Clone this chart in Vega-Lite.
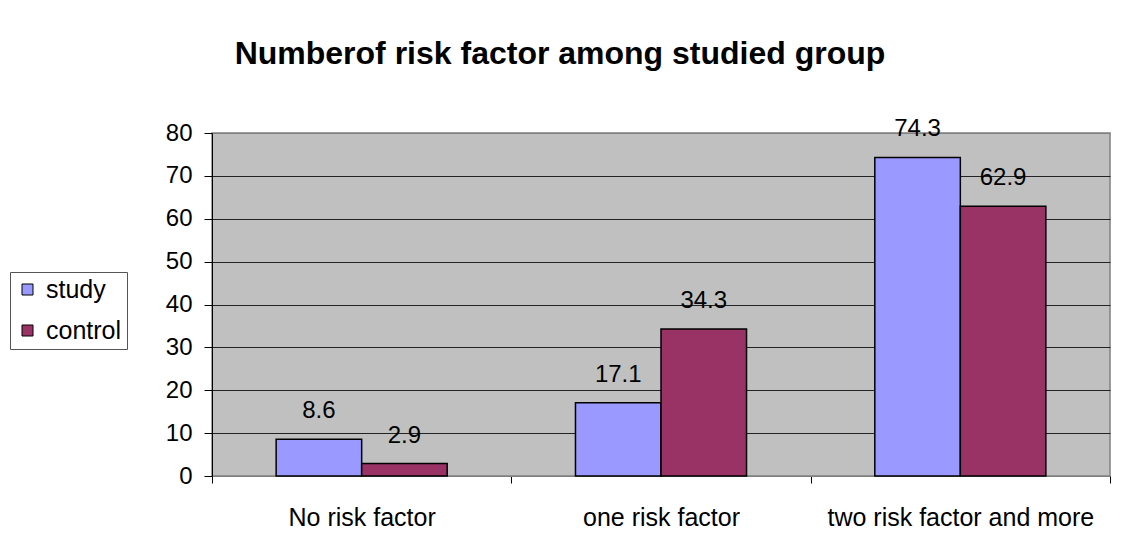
{
  "$schema": "https://vega.github.io/schema/vega-lite/v6.json",
  "width": 898,
  "height": 343,
  "autosize": {"type": "none"},
  "padding": {"left": 212, "top": 133, "right": 12, "bottom": 80},
  "background": "white",
  "title": {
    "text": "Numberof risk factor among studied group",
    "font": "Liberation Sans",
    "fontSize": 32,
    "fontWeight": "bold",
    "color": "black",
    "anchor": "middle",
    "dx": -101,
    "offset": 46
  },
  "data": {
    "values": [
      {"category": "No risk factor", "group": "study", "value": 8.6},
      {"category": "No risk factor", "group": "control", "value": 2.9},
      {"category": "one risk factor", "group": "study", "value": 17.1},
      {"category": "one risk factor", "group": "control", "value": 34.3},
      {"category": "two risk factor and more", "group": "study", "value": 74.3},
      {"category": "two risk factor and more", "group": "control", "value": 62.9}
    ]
  },
  "encoding": {
    "x": {
      "field": "category",
      "type": "nominal",
      "sort": ["No risk factor", "one risk factor", "two risk factor and more"],
      "scale": {"paddingInner": 0, "paddingOuter": 0},
      "axis": {
        "title": null,
        "labelAngle": 0,
        "labelFont": "Liberation Sans",
        "labelFontSize": 25,
        "labelColor": "black",
        "labelPadding": 22,
        "labelLimit": 0,
        "tickBand": "extent",
        "tickSize": 7,
        "tickColor": "black",
        "domainColor": "#808080",
        "grid": false
      }
    },
    "xOffset": {
      "field": "group",
      "sort": ["study", "control"],
      "scale": {"paddingOuter": 0.75, "paddingInner": 0}
    },
    "y": {
      "field": "value",
      "type": "quantitative",
      "scale": {"domain": [0, 80], "nice": false},
      "axis": {
        "title": null,
        "values": [0, 10, 20, 30, 40, 50, 60, 70, 80],
        "labelFont": "Liberation Sans",
        "labelFontSize": 24,
        "labelColor": "black",
        "labelPadding": 12,
        "tickSize": 8,
        "tickColor": "black",
        "domainColor": "black",
        "grid": true,
        "gridColor": {"condition": {"test": "datum.value === 80", "value": "#808080"}, "value": "#222222"},
        "gridWidth": 1
      }
    }
  },
  "layer": [
    {
      "mark": {"type": "bar", "stroke": "black", "strokeWidth": 1.5},
      "encoding": {
        "color": {
          "field": "group",
          "type": "nominal",
          "sort": ["study", "control"],
          "scale": {"domain": ["study", "control"], "range": ["#9999FF", "#993366"]},
          "legend": {
            "title": null,
            "orient": "none",
            "legendX": -202,
            "legendY": 139,
            "fillColor": "white",
            "strokeColor": "#555555",
            "padding": 5,
            "rowPadding": 15,
            "symbolType": "square",
            "symbolSize": 121,
            "symbolStrokeColor": "black",
            "symbolStrokeWidth": 1,
            "symbolOpacity": 1,
            "labelFont": "Liberation Sans",
            "labelFontSize": 25,
            "labelColor": "black",
            "labelOffset": 6
          }
        }
      }
    },
    {
      "mark": {"type": "text", "font": "Liberation Sans", "fontSize": 24, "color": "black", "baseline": "alphabetic", "dy": -21},
      "encoding": {
        "text": {"field": "value", "type": "quantitative", "format": ".1f"}
      }
    }
  ],
  "config": {
    "view": {"fill": "#C0C0C0", "stroke": "#808080", "strokeWidth": 1.5}
  }
}
